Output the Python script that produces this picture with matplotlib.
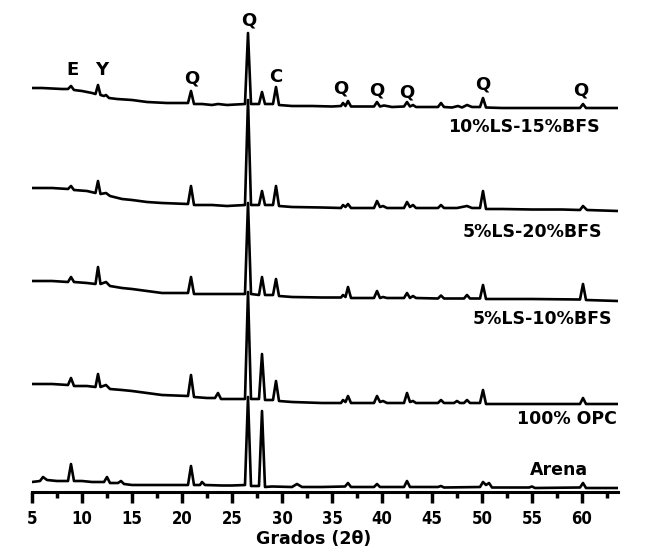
import matplotlib
matplotlib.use("Agg")
import matplotlib.pyplot as plt
from matplotlib.ticker import MultipleLocator

# Difractogramas (2theta, intensidad relativa u.a.)
ls15_2t = [5.0, 6.0, 7.0, 8.0, 8.6, 8.9, 9.2, 10.0, 11.0, 11.35, 11.6, 11.85, 12.2, 12.4, 12.7, 13.5,
           15.0, 16.5, 18.5, 20.6, 20.9, 21.2, 22.0, 23.0, 23.6, 24.5, 26.3, 26.6, 26.9, 27.7, 28.0,
           28.3, 29.1, 29.4, 29.7, 31.0, 33.0, 35.0, 35.9, 36.1, 36.35, 36.6, 36.9, 38.0, 39.2, 39.5,
           39.8, 40.2, 41.0, 42.2, 42.5, 42.8, 43.1, 43.4, 45.6, 45.9, 46.2, 47.0, 47.6, 48.0, 48.5,
           49.0, 49.8, 50.1, 50.4, 52.0, 55.0, 58.0, 59.8, 60.1, 60.4, 63.6]
ls15_i = [20, 20, 19.5, 19, 19, 22, 18, 17, 15, 14, 23, 13, 12, 13, 10, 9,
          8, 6, 5, 5, 17, 4, 4, 3, 4, 3, 4, 75, 4, 4, 16,
          4, 4, 21, 3, 2, 2, 1.5, 2, 5, 2, 7, 1.5, 1.5, 1.5, 6,
          1.5, 2.5, 1, 1.5, 6, 1.5, 3, 1, 1, 5, 1, 0.5, 2, 0.5, 3,
          1, 1, 10, 0.5, 0, 0, 0, 0, 4, 0, 0]

ls20_2t = [5.0, 7.0, 8.6, 8.9, 9.2, 10.5, 11.35, 11.6, 11.85, 12.4, 12.8, 14.0, 15.0, 16.5, 18.0,
           20.6, 20.9, 21.2, 23.0, 24.5, 26.3, 26.6, 26.9, 27.7, 28.0, 28.3, 29.1, 29.4, 29.7,
           31.0, 34.0, 35.9, 36.1, 36.35, 36.6, 36.9, 39.2, 39.5, 39.8, 40.1, 40.5, 42.2, 42.5,
           42.8, 43.1, 43.4, 45.6, 45.9, 46.2, 47.5, 48.5, 49.0, 49.8, 50.1, 50.4, 52.0, 55.0,
           58.0, 59.8, 60.1, 60.5, 63.6]
ls20_i = [23, 23, 22, 25, 21, 20, 18, 30, 17, 18, 15, 12, 11, 9, 8,
          7, 25, 6, 6, 5, 6, 111, 6, 6, 20, 6, 6, 25, 5,
          4, 3.5, 3, 6, 4, 7, 3, 3, 10, 4, 5, 3, 3, 9,
          4, 6, 3, 3, 6, 3, 3, 5, 3, 3, 20, 2, 2, 1.5,
          1.5, 1, 5, 1, 0]

ls10_2t = [5.0, 7.0, 8.6, 8.9, 9.2, 10.5, 11.35, 11.6, 11.85, 12.4, 12.8, 14.0, 15.0, 16.5, 18.0,
           20.6, 20.9, 21.2, 23.0, 24.5, 26.3, 26.6, 26.9, 27.7, 28.0, 28.3, 29.1, 29.4, 29.7,
           31.0, 34.0, 35.9, 36.1, 36.35, 36.6, 36.9, 39.2, 39.5, 39.8, 40.1, 40.5, 42.2, 42.5,
           42.8, 43.1, 43.4, 45.6, 45.9, 46.2, 48.2, 48.5, 48.8, 49.8, 50.1, 50.4, 55.0, 59.8,
           60.1, 60.4, 63.6]
ls10_i = [20, 20, 19, 24, 19, 18, 17, 34, 17, 19, 15, 13, 12, 10, 8,
          8, 24, 7, 7, 7, 7, 98, 7, 6, 24, 6, 6, 22, 5,
          4, 3.5, 3.5, 6, 4, 14, 3, 3, 10, 3, 4, 3, 3, 8,
          3, 5, 3, 2.5, 5.5, 2.5, 2.5, 6, 2.5, 2.5, 16, 2, 2, 1.5,
          17, 1, 0]

opc_2t = [5.0, 7.0, 8.6, 8.9, 9.2, 10.5, 11.35, 11.6, 11.85, 12.4, 12.8, 14.0, 15.0, 16.5, 18.0,
          20.6, 20.9, 21.2, 22.5, 23.3, 23.6, 23.9, 25.0, 26.3, 26.6, 26.9, 27.7, 28.0, 28.3,
          29.1, 29.4, 29.7, 31.0, 34.0, 35.9, 36.1, 36.35, 36.6, 36.9, 39.2, 39.5, 39.8, 40.1,
          40.5, 42.2, 42.5, 42.8, 43.1, 43.4, 45.6, 45.9, 46.2, 47.2, 47.5, 47.8, 48.2, 48.5,
          48.8, 49.8, 50.1, 50.4, 55.0, 59.8, 60.1, 60.4, 63.6]
opc_i = [20, 20, 19, 26, 18, 18, 17, 30, 17, 19, 15, 14, 13, 11, 9,
         8, 29, 7, 6, 6, 11, 5, 5, 5, 112, 5, 5, 50, 4,
         4, 23, 3, 2, 1, 1, 4, 2, 8, 1, 1, 8, 2, 3,
         1, 1, 11, 2, 3, 1, 1, 4, 1, 1, 3, 1, 1, 4,
         1, 1, 14, 0, 0, 0, 6, 0, 0]

arena_2t = [5.0, 5.8, 6.1, 6.5, 7.5, 8.6, 8.9, 9.2, 10.0, 11.0, 12.2, 12.5, 12.8, 13.6, 13.9, 14.2,
            15.0, 18.0, 20.6, 20.9, 21.2, 21.8, 22.0, 22.3, 24.0, 25.0, 26.3, 26.6, 26.9, 27.7,
            28.0, 28.3, 29.0, 31.0, 31.5, 32.0, 34.0, 36.3, 36.6, 36.9, 39.2, 39.5, 39.8, 42.2,
            42.5, 42.8, 45.6, 45.9, 46.2, 49.8, 50.1, 50.4, 50.7, 51.0, 54.7, 55.0, 55.3, 59.8,
            60.1, 60.4, 63.6]
arena_i = [6, 7, 11, 8, 7, 7, 24, 7, 7, 6, 6, 11, 5, 5, 7, 4,
           3, 3, 3, 22, 3, 3, 6, 3, 2.5, 2.5, 3, 91, 2, 2,
           77, 1, 1.5, 1, 4, 1, 1, 1.5, 5, 1, 1, 4, 1, 1,
           7, 1, 1, 2, 0.5, 1, 6, 3, 5, 0.5, 0.5, 1.5, 0, 0.5,
           5, 0, 0]

muestras = ["10%LS-15%BFS", "5%LS-20%BFS", "5%LS-10%BFS", "100% OPC", "Arena"]
desplaz = [384, 281, 191, 88, 4]

# etiquetas de fases (E: etringita, Y: ye'elimita, Q: cuarzo, C: calcita)
fases = ["E", "Y", "Q", "Q", "C", "Q", "Q", "Q", "Q", "Q"]
fases_2t = [9.1, 12.0, 21.0, 26.7, 29.4, 35.9, 39.5, 42.5, 50.1, 59.9]
fases_y = [422, 422, 413, 471, 415, 403, 402, 400, 407, 402]

fig = plt.figure(figsize=(6.53, 5.54), dpi=100)
ax = fig.add_axes([32 / 653, 62 / 554, 586 / 653, 492 / 554])

series = [(ls15_2t, ls15_i), (ls20_2t, ls20_i), (ls10_2t, ls10_i), (opc_2t, opc_i), (arena_2t, arena_i)]
for (x, y), d in zip(series, desplaz):
    ax.plot(x, [v + d for v in y], color="black", lw=1.9, solid_joinstyle="round")

# nombres de las muestras a la derecha
etiq_x = [61.8, 62.0, 63.0, 63.5, 60.6]
etiq_y = [365, 260, 173, 73, 22]
for t, xx, yy in zip(muestras, etiq_x, etiq_y):
    ax.text(xx, yy, t, ha="right", va="center", fontsize=12.5, fontweight="bold",
            family="DejaVu Sans")

for t, xx, yy in zip(fases, fases_2t, fases_y):
    ax.text(xx, yy, t, ha="center", va="center", fontsize=13, fontweight="bold",
            family="DejaVu Sans")

ax.set_xlim(5, 63.6)
ax.set_ylim(0, 492)
for s in ["top", "left", "right"]:
    ax.spines[s].set_visible(False)
ax.spines["bottom"].set_linewidth(2.2)
ax.set_yticks([])
ax.xaxis.set_major_locator(MultipleLocator(5))
ax.xaxis.set_minor_locator(MultipleLocator(2.5))
ax.tick_params(axis="x", which="major", direction="out", length=8, width=2.5, pad=5)
ax.tick_params(axis="x", which="minor", direction="out", length=4, width=2.5)
for lab in ax.get_xticklabels():
    lab.set_fontweight("bold")
    lab.set_fontsize(12)
    lab.set_fontstretch("condensed")

ax.set_xlabel("Grados (2θ)", fontsize=12.5, fontweight="bold", family="DejaVu Sans")
ax.xaxis.set_label_coords(0.48, -0.078)

fig.savefig("out.png", dpi=100)
